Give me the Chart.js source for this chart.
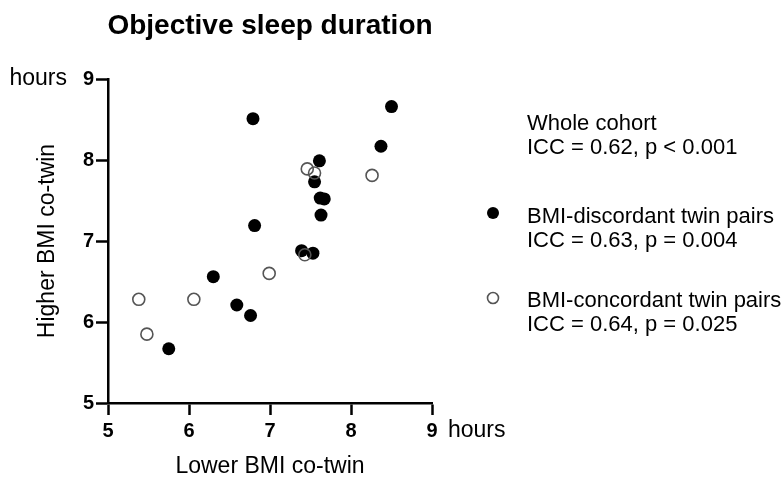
<!DOCTYPE html>
<html>
<head>
<meta charset="utf-8">
<title>Objective sleep duration</title>
<script src="https://cdn.jsdelivr.net/npm/chart.js@4.4.0/dist/chart.umd.min.js"></script>
<style>
  html, body { margin: 0; padding: 0; background: #fff; }
  #wrap { width: 782px; height: 480px; }
</style>
</head>
<body>
<div id="wrap"><canvas id="grafico" width="782" height="480"></canvas></div>
<script>
// dati (ore di sonno)
var titolo = 'Objective sleep duration';
var tickOre = [5, 6, 7, 8, 9];

// coppie BMI-discordanti: gemello BMI piu basso (x), gemello BMI piu alto (y)
var discordantiBasso = [6.79, 8.50, 8.37, 7.61, 7.55, 7.62, 7.67, 7.63, 6.81, 7.39, 7.53, 6.30, 6.59, 6.76, 5.75];
var discordantiAlto  = [8.51, 8.66, 8.17, 7.99, 7.73, 7.53, 7.52, 7.32, 7.19, 6.88, 6.85, 6.56, 6.21, 6.08, 5.67];

// coppie BMI-concordanti
var concordantiBasso = [7.46, 7.55, 8.26, 6.99, 7.43, 5.38, 6.06, 5.48];
var concordantiAlto  = [7.89, 7.84, 7.81, 6.60, 6.83, 6.28, 6.28, 5.85];

var testoCoorte = ['Whole cohort', 'ICC = 0.62, p < 0.001'];
var testoDiscordanti = ['BMI-discordant twin pairs', 'ICC = 0.63, p = 0.004'];
var testoConcordanti = ['BMI-concordant twin pairs', 'ICC = 0.64, p = 0.025'];

var FONT = '"Liberation Sans", Arial, Helvetica, sans-serif';

function punti(xs, ys) {
  return xs.map(function (x, i) { return { x: x, y: ys[i] }; });
}

// titolo, legenda e le scritte "hours"
var testiExtra = {
  id: 'testiExtra',
  afterDraw: function (chart) {
    var ctx = chart.ctx;
    ctx.save();
    ctx.fillStyle = '#000';

    ctx.font = 'bold 28px ' + FONT;
    ctx.textAlign = 'center';
    ctx.textBaseline = 'alphabetic';
    ctx.fillText(titolo, 270, 34);

    ctx.font = '23px ' + FONT;
    ctx.textBaseline = 'middle';
    ctx.textAlign = 'right';
    ctx.fillText('hours', 67, chart.scales.y.getPixelForValue(9));
    ctx.textAlign = 'left';
    ctx.fillText('hours', 448, 431);

    ctx.font = '22px ' + FONT;
    ctx.textBaseline = 'alphabetic';
    var righe = [
      [testoCoorte, 130],
      [testoDiscordanti, 223],
      [testoConcordanti, 307]
    ];
    righe.forEach(function (r) {
      ctx.fillText(r[0][0], 527, r[1]);
      ctx.fillText(r[0][1], 527, r[1] + 24);
    });

    // simboli legenda
    ctx.beginPath();
    ctx.arc(493, 213, 6, 0, Math.PI * 2);
    ctx.fillStyle = '#000';
    ctx.fill();

    ctx.beginPath();
    ctx.arc(493, 298, 5.5, 0, Math.PI * 2);
    ctx.lineWidth = 1.6;
    ctx.strokeStyle = '#555';
    ctx.stroke();
    ctx.restore();
  }
};

var asse = {
  type: 'linear',
  min: 5,
  max: 9,
  afterBuildTicks: function (scale) {
    scale.ticks = tickOre.map(function (v) { return { value: v }; });
  },
  border: { display: true, color: '#000', width: 2.5 },
  grid: {
    drawOnChartArea: false,
    drawTicks: true,
    tickLength: 12,
    tickWidth: 2.5,
    tickColor: '#000'
  },
  ticks: {
    color: '#000',
    font: { family: FONT, size: 20, weight: 'bold' }
  }
};

var grafico = new Chart(document.getElementById('grafico'), {
  type: 'scatter',
  data: {
    datasets: [{
      label: 'BMI-concordant twin pairs',
      data: punti(concordantiBasso, concordantiAlto),
      order: 1,
      pointRadius: 6,
      pointBackgroundColor: 'rgba(0,0,0,0)',
      pointBorderColor: '#555',
      pointBorderWidth: 1.6
    }, {
      label: 'BMI-discordant twin pairs',
      data: punti(discordantiBasso, discordantiAlto),
      order: 2,
      pointRadius: 6.5,
      pointBackgroundColor: '#000',
      pointBorderColor: '#000',
      pointBorderWidth: 0
    }]
  },
  options: {
    responsive: false,
    animation: false,
    layout: { padding: { left: 34, right: 350, top: 79, bottom: 0 } },
    plugins: {
      legend: { display: false },
      tooltip: { enabled: false },
      title: { display: false }
    },
    scales: {
      x: Object.assign({}, asse, {
        position: 'bottom',
        afterFit: function (scale) { scale.height = 77; },
        ticks: Object.assign({}, asse.ticks, { padding: 4, maxRotation: 0 }),
        title: {
          display: true,
          text: 'Lower BMI co-twin',
          color: '#000',
          font: { family: FONT, size: 23 },
          padding: { top: 0, bottom: 0 }
        }
      }),
      y: Object.assign({}, asse, {
        position: 'left',
        afterFit: function (scale) { scale.width = 74; },
        ticks: Object.assign({}, asse.ticks, { padding: 2 }),
        title: {
          display: true,
          text: 'Higher BMI co-twin',
          color: '#000',
          font: { family: FONT, size: 23 },
          padding: { top: 0, bottom: 0 }
        }
      })
    }
  },
  plugins: [testiExtra]
});
</script>
</body>
</html>
